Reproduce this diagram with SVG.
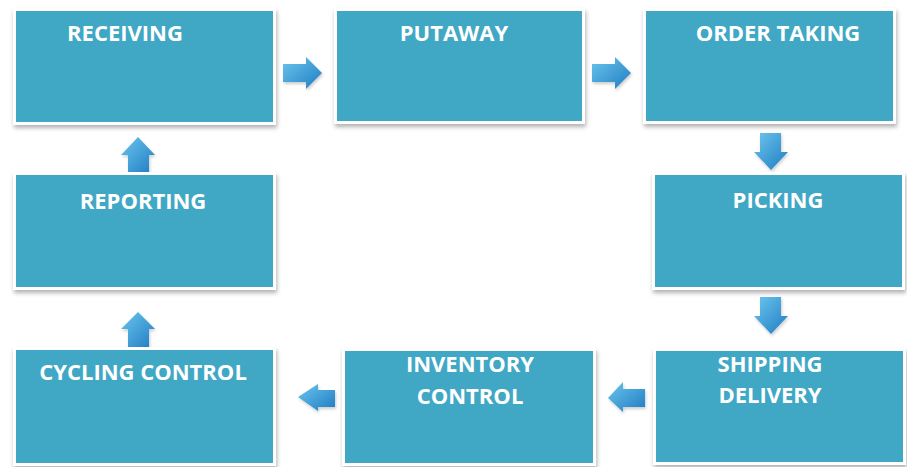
<svg xmlns="http://www.w3.org/2000/svg" width="907" height="467" viewBox="0 0 907 467">
<style>
.frame{fill:#ffffff;filter:url(#sh)}
.box{fill:#40a8c4}
.lbl{font-family:"Open Sans","Liberation Sans",sans-serif;font-weight:bold;font-size:22px;fill:#ffffff;text-anchor:middle}
.arr{filter:url(#ash)}
.h{fill:url(#gh)}
.v{fill:url(#gv)}
</style>
<defs>
<filter id="sh" x="-10%" y="-10%" width="120%" height="130%">
<feDropShadow dx="1" dy="3" stdDeviation="2" flood-color="#000" flood-opacity="0.3"/>
</filter>
<filter id="ash" x="-30%" y="-30%" width="160%" height="160%">
<feDropShadow dx="1" dy="2" stdDeviation="1.5" flood-color="#000" flood-opacity="0.2"/>
</filter>
<linearGradient id="gh" x1="0" y1="0" x2="1" y2="1">
<stop offset="0" stop-color="#6cc6ee"/>
<stop offset="1" stop-color="#1f7cc2"/>
</linearGradient>
<linearGradient id="gv" x1="0" y1="0" x2="1" y2="1">
<stop offset="0" stop-color="#6cc6ee"/>
<stop offset="1" stop-color="#1f7cc2"/>
</linearGradient>
</defs>
<rect width="907" height="467" fill="#ffffff"/>
<g id="connectors">
<path class="arr h" d="M283,64 L306,64 L306,57 L322,73 L306,89 L306,82 L283,82 Z"/>
<path class="arr h" d="M592,64 L615,64 L615,57 L631,73 L615,89 L615,82 L592,82 Z"/>
<path class="arr v" d="M760,133 L781,133 L781,152 L788,152 L771,170 L754,152 L760,152 Z"/>
<path class="arr v" d="M760,297 L781,297 L781,316 L788,316 L771,334 L754,316 L760,316 Z"/>
<path class="arr h" d="M645,389 L623,389 L623,382 L608,398 L623,412 L623,407 L645,407 Z"/>
<path class="arr h" d="M335,390 L318,390 L318,384 L298,397 L318,411 L318,407 L335,407 Z"/>
<path class="arr v" d="M128,348 L149,348 L149,329 L155,329 L138,312 L121,329 L128,329 Z"/>
<path class="arr v" d="M128,173 L149,173 L149,155 L155,155 L138,137 L121,155 L128,155 Z"/>
</g>
<g id="receiving">
<rect class="frame" x="13" y="8" width="263" height="117"/>
<rect class="box" x="16" y="11" width="257" height="111"/>
<text class="lbl" x="125" y="41">RECEIVING</text>
</g>
<g id="putaway">
<rect class="frame" x="334" y="8" width="251" height="116"/>
<rect class="box" x="337" y="11" width="245" height="110"/>
<text class="lbl" x="454" y="41">PUTAWAY</text>
</g>
<g id="order-taking">
<rect class="frame" x="643" y="8" width="253" height="116"/>
<rect class="box" x="646" y="11" width="247" height="110"/>
<text class="lbl" x="778" y="41">ORDER TAKING</text>
</g>
<g id="picking">
<rect class="frame" x="652" y="172" width="253" height="118"/>
<rect class="box" x="655" y="175" width="247" height="112"/>
<text class="lbl" x="778" y="208">PICKING</text>
</g>
<g id="shipping-delivery">
<rect class="frame" x="653" y="348" width="253" height="117"/>
<rect class="box" x="656" y="351" width="247" height="111"/>
<text class="lbl" x="770" y="372">SHIPPING</text>
<text class="lbl" x="770" y="403">DELIVERY</text>
</g>
<g id="inventory-control">
<rect class="frame" x="342" y="348" width="254" height="118"/>
<rect class="box" x="345" y="351" width="248" height="112"/>
<text class="lbl" x="470" y="372">INVENTORY</text>
<text class="lbl" x="470" y="404">CONTROL</text>
</g>
<g id="cycling-control">
<rect class="frame" x="13" y="347" width="263" height="119"/>
<rect class="box" x="16" y="350" width="257" height="113"/>
<text class="lbl" x="143" y="380">CYCLING CONTROL</text>
</g>
<g id="reporting">
<rect class="frame" x="13" y="172" width="263" height="118"/>
<rect class="box" x="16" y="175" width="257" height="112"/>
<text class="lbl" x="143" y="209">REPORTING</text>
</g>
</svg>
